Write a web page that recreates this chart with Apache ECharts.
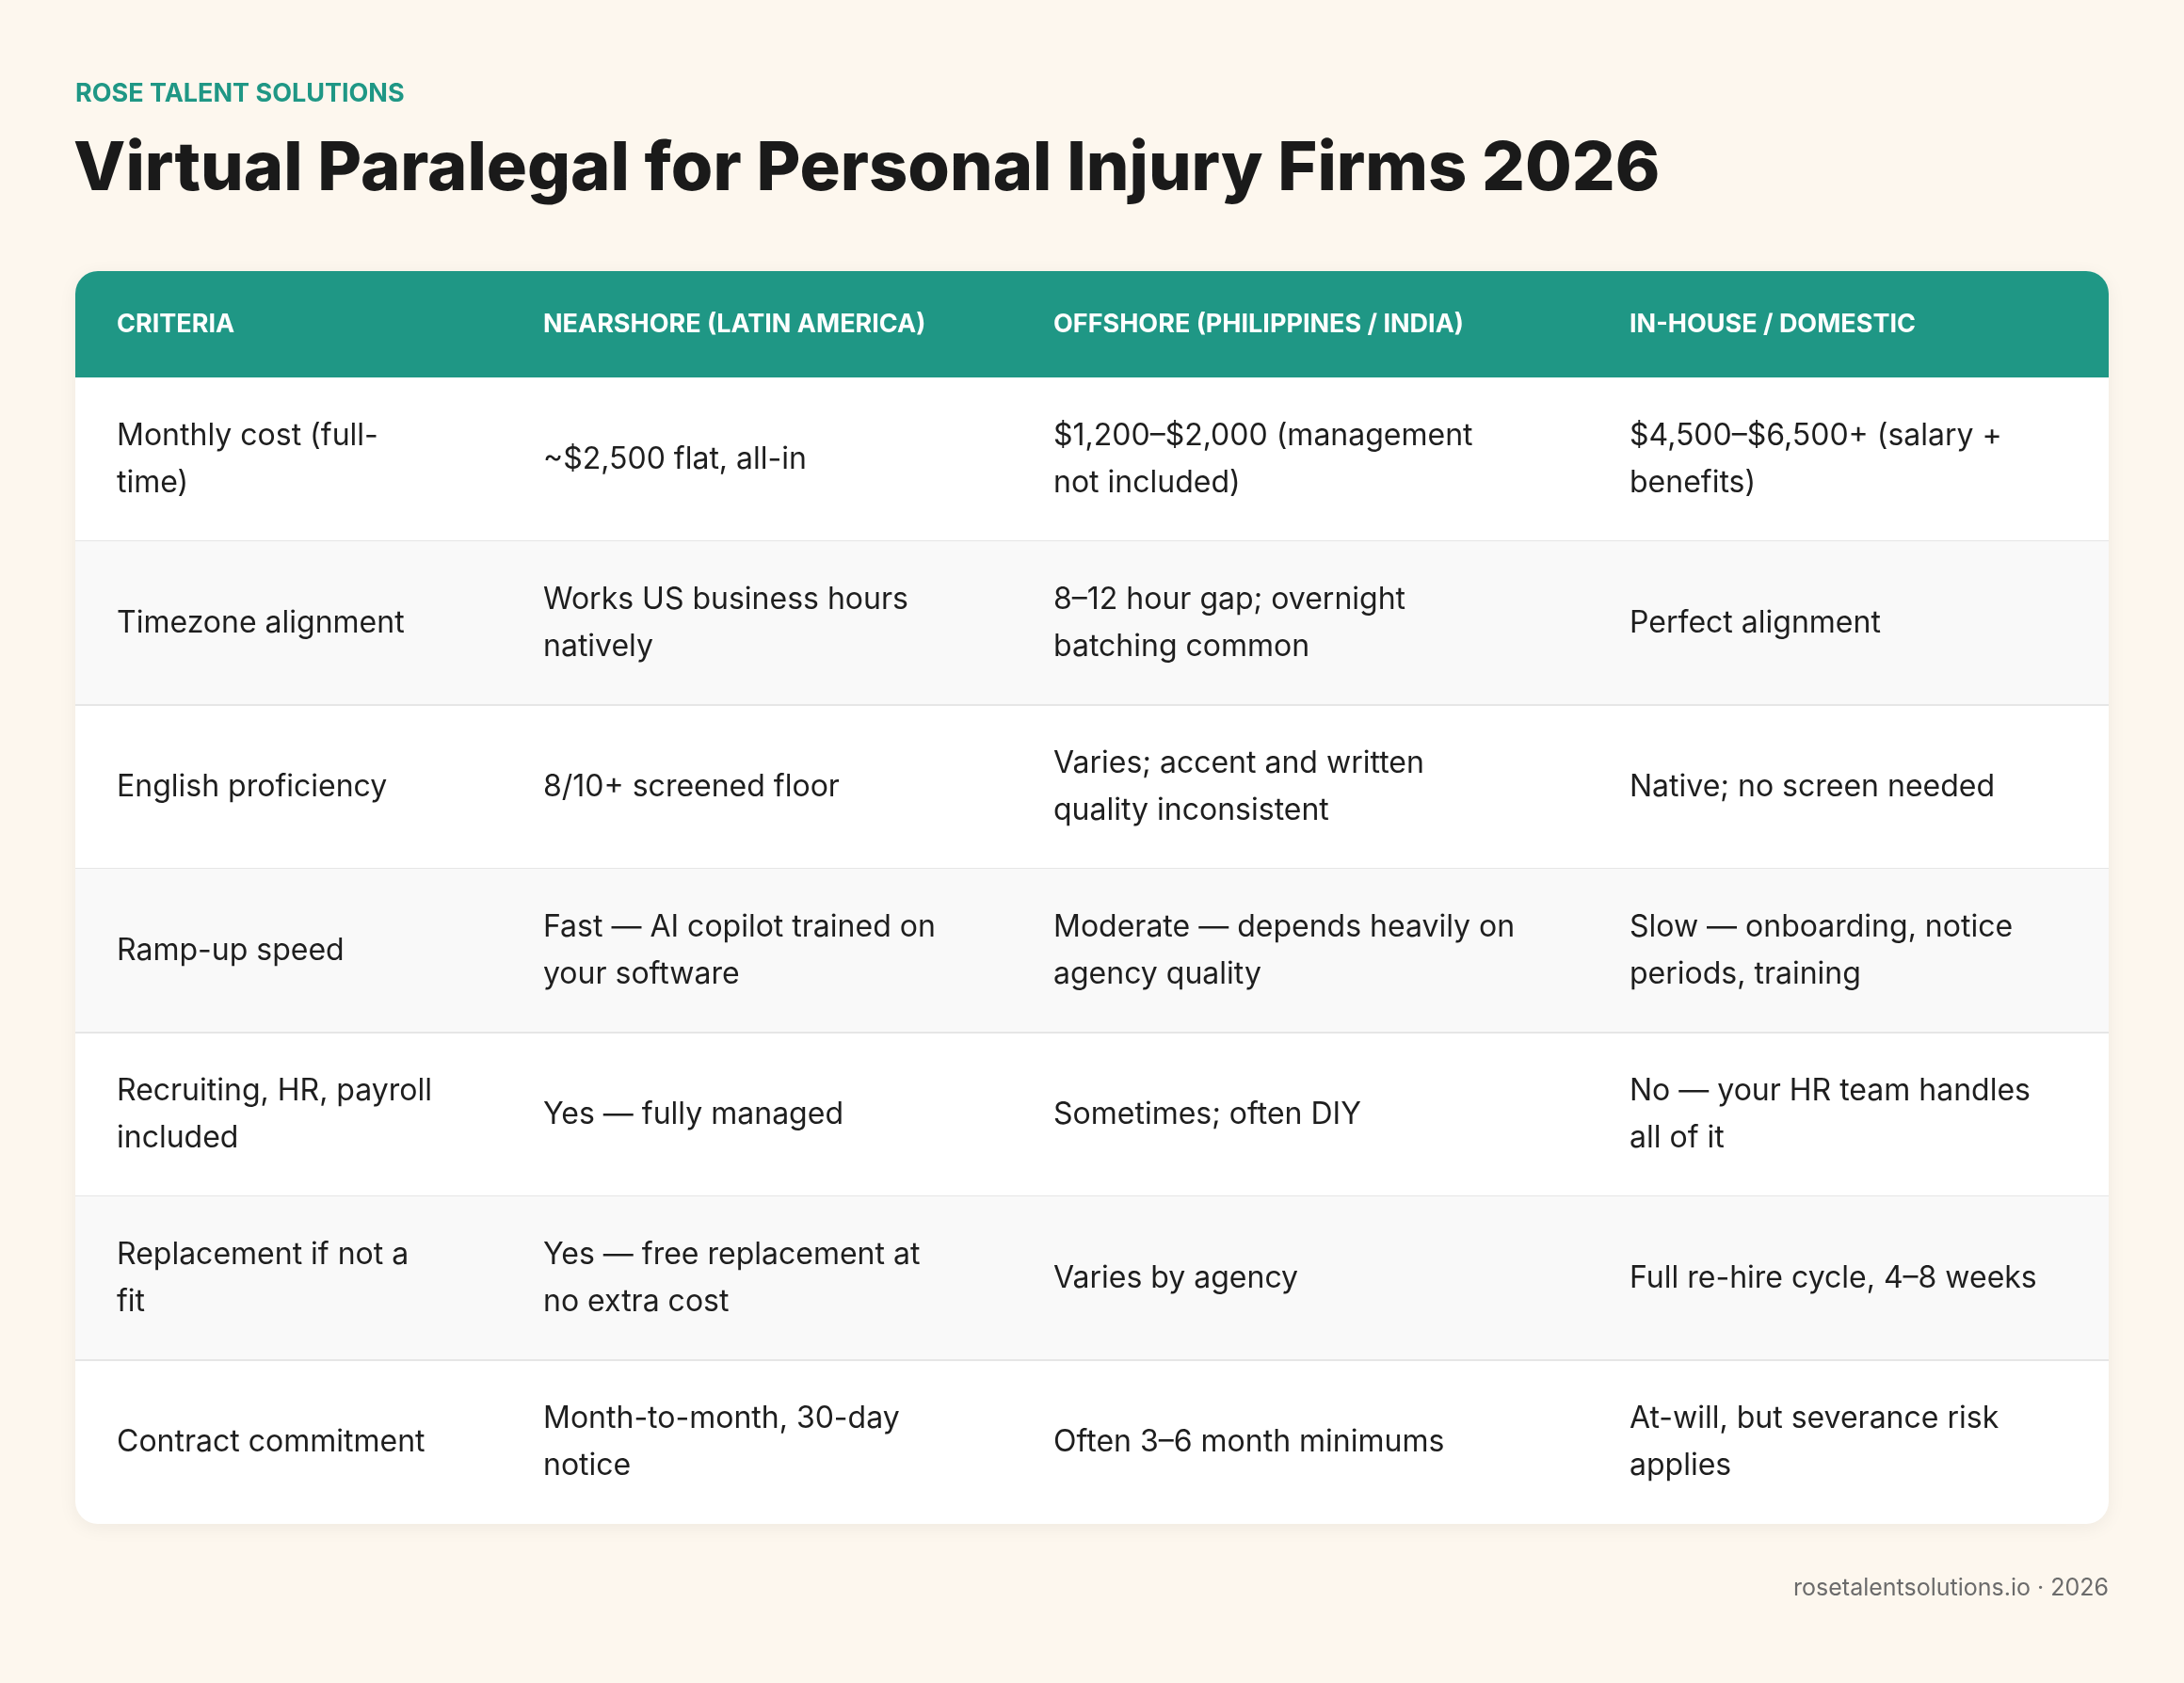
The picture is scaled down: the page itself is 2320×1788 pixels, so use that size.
<!DOCTYPE html>
<html>
<head>
<meta charset="utf-8">
<script src="https://cdn.jsdelivr.net/npm/echarts@6/dist/echarts.min.js"></script>
<style>
  html, body { margin: 0; padding: 0; background: #fdf7ee; }
  #chart { width: 2320px; height: 1788px; }
</style>
</head>
<body>
<div id="chart"></div>
<script>
let chart = echarts.init(document.querySelector('#chart'));

// table content
let headers = ['CRITERIA', 'NEARSHORE (LATIN AMERICA)', 'OFFSHORE (PHILIPPINES / INDIA)', 'IN-HOUSE / DOMESTIC'];
let criteria = ['Monthly cost (full-\ntime)', 'Timezone alignment', 'English proficiency', 'Ramp-up speed',
  'Recruiting, HR, payroll\nincluded', 'Replacement if not a\nfit', 'Contract commitment'];
let nearshore = ['~$2,500 flat, all-in', 'Works US business hours\nnatively', '8/10+ screened floor',
  'Fast \u2014 AI copilot trained on\nyour software', 'Yes \u2014 fully managed',
  'Yes \u2014 free replacement at\nno extra cost', 'Month-to-month, 30-day\nnotice'];
let offshore = ['$1,200\u2013$2,000 (management\nnot included)', '8\u201312 hour gap; overnight\nbatching common',
  'Varies; accent and written\nquality inconsistent', 'Moderate \u2014 depends heavily on\nagency quality',
  'Sometimes; often DIY', 'Varies by agency', 'Often 3\u20136 month minimums'];
let inhouse = ['$4,500\u2013$6,500+ (salary +\nbenefits)', 'Perfect alignment', 'Native; no screen needed',
  'Slow \u2014 onboarding, notice\nperiods, training', 'No \u2014 your HR team handles\nall of it',
  'Full re-hire cycle, 4\u20138 weeks', 'At-will, but severance risk\napplies'];

const FONT = 'Inter, "Noto Sans", sans-serif';
const cardL = 80, cardR = 2240, cardT = 288, headH = 113, rowH = 174;
const colX = [124, 577, 1119, 1731];
const columns = [criteria, nearshore, offshore, inhouse];
const cardB = cardT + headH + rowH * criteria.length;

let elements = [];
// card
elements.push({
  type: 'rect', shape: { x: cardL, y: cardT, width: cardR - cardL, height: cardB - cardT, r: 24 },
  style: { fill: '#ffffff', shadowBlur: 20, shadowColor: 'rgba(0,0,0,0.06)', shadowOffsetY: 4 }
});
// header
elements.push({
  type: 'rect', shape: { x: cardL, y: cardT, width: cardR - cardL, height: headH, r: [24, 24, 0, 0] },
  style: { fill: '#1f9785' }
});
headers.forEach((h, i) => {
  elements.push({
    type: 'text', x: colX[i], y: cardT + headH / 2,
    style: { text: h, font: '700 27px ' + FONT, fill: '#ffffff', verticalAlign: 'middle' }
  });
});
// rows
for (let r = 0; r < criteria.length; r++) {
  let y = cardT + headH + r * rowH;
  let last = r === criteria.length - 1;
  if (r % 2 === 1) {
    elements.push({
      type: 'rect', shape: { x: cardL, y: y, width: cardR - cardL, height: rowH, r: last ? [0, 0, 24, 24] : 0 },
      style: { fill: '#f9f9f9' }
    });
  }
  if (!last) {
    elements.push({
      type: 'line', shape: { x1: cardL, y1: y + rowH, x2: cardR, y2: y + rowH },
      style: { stroke: '#e6e6e6', lineWidth: 2 }
    });
  }
  columns.forEach((col, c) => {
    elements.push({
      type: 'text', x: colX[c], y: y + rowH / 2,
      style: { text: col[r], font: '400 32px ' + FONT, fill: '#1e1e1e', verticalAlign: 'middle', lineHeight: 50 }
    });
  });
}
// titles
elements.push({
  type: 'text', x: 80, y: 100,
  style: { text: 'ROSE TALENT SOLUTIONS', font: '700 27px ' + FONT, fill: '#1f9785', verticalAlign: 'middle' }
});
elements.push({
  type: 'text', x: 78, y: 180,
  style: { text: 'Virtual Paralegal for Personal Injury Firms 2026', font: '800 72px ' + FONT, fill: '#1a1a1a', verticalAlign: 'middle' }
});
elements.push({
  type: 'text', x: 2240, y: 1687,
  style: { text: 'rosetalentsolutions.io \u00b7 2026', font: '400 25px ' + FONT, fill: '#6b6b6b', align: 'right', verticalAlign: 'middle' }
});

chart.setOption({
  backgroundColor: '#fdf7ee',
  graphic: { elements: elements }
});
</script>
</body>
</html>
